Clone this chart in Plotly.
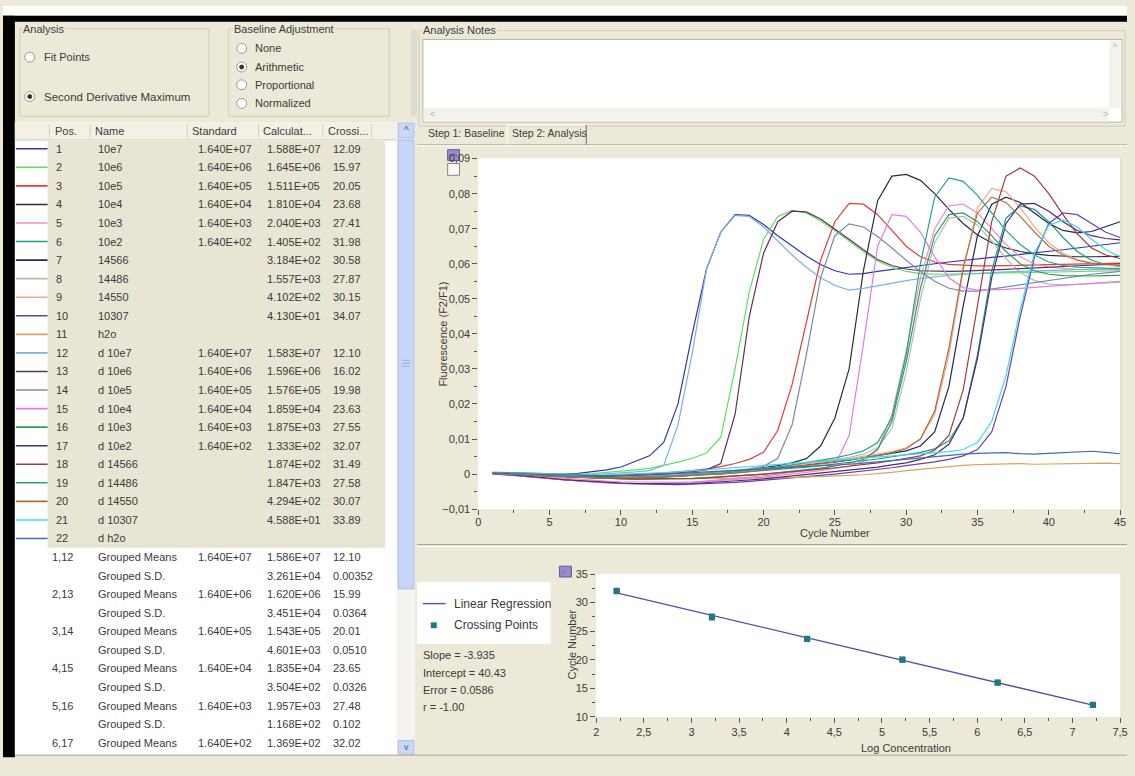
import math
import plotly.graph_objects as go

W, H = 1135, 776
def px(x): return x / W
def py(y): return 1 - y / H

FONT = "Liberation Sans, Arial, sans-serif"
TXT = "#3a3a3a"
BEIGE = "#ECE9D8"

# ---------------- data ----------------
cycles = list(range(1, 46))

sample_pos = [str(i) for i in range(1, 23)]
sample_names = ["10e7", "10e6", "10e5", "10e4", "10e3", "10e2", "14566", "14486", "14550", "10307", "h2o",
                "d 10e7", "d 10e6", "d 10e5", "d 10e4", "d 10e3", "d 10e2", "d 14566", "d 14486", "d 14550",
                "d 10307", "d h2o"]
sample_standard = ["1.640E+07", "1.640E+06", "1.640E+05", "1.640E+04", "1.640E+03", "1.640E+02", "", "", "", "", "",
                   "1.640E+07", "1.640E+06", "1.640E+05", "1.640E+04", "1.640E+03", "1.640E+02", "", "", "", "", ""]
sample_calculated = ["1.588E+07", "1.645E+06", "1.511E+05", "1.810E+04", "2.040E+03", "1.405E+02", "3.184E+02",
                     "1.557E+03", "4.102E+02", "4.130E+01", "", "1.583E+07", "1.596E+06", "1.576E+05", "1.859E+04",
                     "1.875E+03", "1.333E+02", "1.874E+02", "1.847E+03", "4.294E+02", "4.588E+01", ""]
sample_crossing = ["12.09", "15.97", "20.05", "23.68", "27.41", "31.98", "30.58", "27.87", "30.15", "34.07", "",
                   "12.10", "16.02", "19.98", "23.63", "27.55", "32.07", "31.49", "27.58", "30.07", "33.89", ""]
sample_colors = ["#3434b4", "#5ee05e", "#e23c3c", "#2a2e3a", "#f08ccc", "#1f9a8c", "#24245e", "#b4bcb4",
                 "#f4a888", "#6a40b0", "#d8a45c", "#78b4dc", "#5a3454", "#7c8aa8", "#e07ce8", "#2e9e52",
                 "#4c2c74", "#a03c3c", "#1ea58a", "#a87040", "#3cd8ec", "#3c6cb4"]

group_pos = ["1,12", "", "2,13", "", "3,14", "", "4,15", "", "5,16", "", "6,17"]
group_names = ["Grouped Means", "Grouped S.D."] * 5 + ["Grouped Means"]
group_standard = ["1.640E+07", "", "1.640E+06", "", "1.640E+05", "", "1.640E+04", "", "1.640E+03", "", "1.640E+02"]
group_calculated = ["1.586E+07", "3.261E+04", "1.620E+06", "3.451E+04", "1.543E+05", "4.601E+03",
                    "1.835E+04", "3.504E+02", "1.957E+03", "1.168E+02", "1.369E+02"]
group_crossing = ["12.10", "0.00352", "15.99", "0.0364", "20.01", "0.0510", "23.65", "0.0326",
                  "27.48", "0.102", "32.02"]

reg_slope = -3.935
reg_intercept = 40.43
reg_error = 0.0586
reg_r = -1.00

fluor_01 = [0.0005, 0.0004, 0.0003, 0.0002, 0.0001, 0.0000, 0.0002, 0.0006, 0.0012, 0.0020,
            0.0035, 0.0052, 0.0090, 0.0200, 0.0400, 0.0585, 0.0690, 0.0740, 0.0738, 0.0712,
            0.0680, 0.0650, 0.0622, 0.0598, 0.0580, 0.0570, 0.0572, 0.0578, 0.0584, 0.0590,
            0.0596, 0.0600, 0.0605, 0.0610, 0.0614, 0.0618, 0.0622, 0.0626, 0.0630, 0.0635,
            0.0640, 0.0645, 0.0650, 0.0655, 0.0660]
fluor_02 = [0.0004, 0.0003, 0.0001, 0.0000, -0.0001, -0.0002, -0.0001, 0.0001, 0.0004, 0.0008,
            0.0012, 0.0016, 0.0024, 0.0034, 0.0045, 0.0060, 0.0105, 0.0300, 0.0520, 0.0670,
            0.0735, 0.0752, 0.0745, 0.0722, 0.0695, 0.0665, 0.0635, 0.0608, 0.0590, 0.0578,
            0.0572, 0.0570, 0.0570, 0.0571, 0.0572, 0.0573, 0.0574, 0.0575, 0.0576, 0.0577,
            0.0578, 0.0578, 0.0579, 0.0580, 0.0580]
fluor_03 = [0.0003, 0.0002, 0.0000, -0.0002, -0.0004, -0.0005, -0.0006, -0.0006, -0.0005, -0.0004,
            -0.0002, 0.0000, 0.0003, 0.0006, 0.0010, 0.0015, 0.0021, 0.0030, 0.0042, 0.0062,
            0.0125, 0.0255, 0.0430, 0.0610, 0.0720, 0.0772, 0.0770, 0.0740, 0.0695, 0.0650,
            0.0620, 0.0605, 0.0598, 0.0595, 0.0594, 0.0594, 0.0595, 0.0596, 0.0597, 0.0598,
            0.0599, 0.0600, 0.0600, 0.0601, 0.0602]
fluor_04 = [0.0002, 0.0001, -0.0001, -0.0003, -0.0005, -0.0007, -0.0009, -0.0011, -0.0012, -0.0012,
            -0.0011, -0.0010, -0.0008, -0.0006, -0.0003, 0.0000, 0.0004, 0.0008, 0.0013, 0.0018,
            0.0024, 0.0032, 0.0044, 0.0080, 0.0160, 0.0300, 0.0580, 0.0780, 0.0850, 0.0855,
            0.0838, 0.0800, 0.0755, 0.0715, 0.0682, 0.0660, 0.0645, 0.0635, 0.0628, 0.0624,
            0.0621, 0.0620, 0.0620, 0.0620, 0.0621]
fluor_05 = [0.0003, 0.0000, -0.0003, -0.0006, -0.0009, -0.0012, -0.0015, -0.0018, -0.0020, -0.0022,
            -0.0023, -0.0024, -0.0024, -0.0024, -0.0023, -0.0021, -0.0019, -0.0016, -0.0013, -0.0009,
            -0.0005, 0.0000, 0.0005, 0.0010, 0.0015, 0.0022, 0.0035, 0.0070, 0.0170, 0.0350,
            0.0560, 0.0700, 0.0765, 0.0770, 0.0745, 0.0700, 0.0655, 0.0620, 0.0600, 0.0590,
            0.0586, 0.0584, 0.0583, 0.0583, 0.0583]
fluor_06 = [0.0001, 0.0000, -0.0001, -0.0003, -0.0004, -0.0006, -0.0007, -0.0008, -0.0009, -0.0009,
            -0.0009, -0.0008, -0.0007, -0.0006, -0.0004, -0.0002, 0.0000, 0.0003, 0.0006, 0.0009,
            0.0012, 0.0016, 0.0020, 0.0024, 0.0028, 0.0033, 0.0038, 0.0043, 0.0049, 0.0055,
            0.0062, 0.0072, 0.0095, 0.0160, 0.0340, 0.0580, 0.0730, 0.0765, 0.0755, 0.0720,
            0.0675, 0.0635, 0.0610, 0.0598, 0.0592]
fluor_07 = [0.0003, 0.0002, 0.0000, -0.0002, -0.0004, -0.0005, -0.0006, -0.0007, -0.0007, -0.0007,
            -0.0006, -0.0005, -0.0004, -0.0002, 0.0000, 0.0002, 0.0005, 0.0008, 0.0011, 0.0014,
            0.0018, 0.0022, 0.0026, 0.0030, 0.0035, 0.0040, 0.0046, 0.0052, 0.0058, 0.0066,
            0.0080, 0.0120, 0.0250, 0.0480, 0.0680, 0.0770, 0.0790, 0.0775, 0.0745, 0.0715,
            0.0695, 0.0688, 0.0692, 0.0705, 0.0720]
fluor_08 = [0.0001, 0.0000, -0.0001, -0.0003, -0.0005, -0.0006, -0.0007, -0.0008, -0.0008, -0.0008,
            -0.0007, -0.0006, -0.0005, -0.0003, -0.0001, 0.0001, 0.0004, 0.0007, 0.0011, 0.0015,
            0.0019, 0.0024, 0.0029, 0.0035, 0.0041, 0.0048, 0.0056, 0.0075, 0.0130, 0.0290,
            0.0500, 0.0660, 0.0730, 0.0735, 0.0710, 0.0665, 0.0615, 0.0575, 0.0552, 0.0542,
            0.0540, 0.0541, 0.0543, 0.0545, 0.0547]
fluor_09 = [0.0002, 0.0001, 0.0000, -0.0001, -0.0003, -0.0004, -0.0005, -0.0006, -0.0006, -0.0006,
            -0.0005, -0.0004, -0.0003, -0.0001, 0.0001, 0.0003, 0.0006, 0.0009, 0.0012, 0.0016,
            0.0020, 0.0024, 0.0028, 0.0033, 0.0038, 0.0044, 0.0050, 0.0057, 0.0064, 0.0075,
            0.0100, 0.0170, 0.0340, 0.0580, 0.0760, 0.0815, 0.0805, 0.0760, 0.0705, 0.0660,
            0.0630, 0.0612, 0.0602, 0.0597, 0.0594]
fluor_10 = [0.0001, -0.0002, -0.0005, -0.0009, -0.0013, -0.0017, -0.0020, -0.0023, -0.0025, -0.0027,
            -0.0028, -0.0029, -0.0030, -0.0030, -0.0029, -0.0028, -0.0026, -0.0024, -0.0021, -0.0018,
            -0.0015, -0.0012, -0.0008, -0.0004, 0.0000, 0.0004, 0.0008, 0.0013, 0.0018, 0.0024,
            0.0029, 0.0035, 0.0042, 0.0052, 0.0070, 0.0120, 0.0250, 0.0450, 0.0620, 0.0715,
            0.0745, 0.0740, 0.0715, 0.0690, 0.0675]
fluor_11 = [0.0001, 0.0000, -0.0001, -0.0003, -0.0005, -0.0006, -0.0007, -0.0008, -0.0009, -0.0010,
            -0.0011, -0.0012, -0.0012, -0.0013, -0.0013, -0.0013, -0.0013, -0.0012, -0.0012, -0.0011,
            -0.0011, -0.0010, -0.0009, -0.0008, -0.0006, -0.0004, -0.0002, 0.0001, 0.0005, 0.0010,
            0.0014, 0.0018, 0.0022, 0.0025, 0.0027, 0.0028, 0.0029, 0.0030, 0.0028, 0.0029,
            0.0030, 0.0029, 0.0030, 0.0031, 0.0030]
fluor_12 = [0.0003, 0.0002, 0.0000, -0.0002, -0.0004, -0.0005, -0.0004, -0.0002, 0.0000, 0.0003,
            0.0006, 0.0010, 0.0025, 0.0140, 0.0345, 0.0585, 0.0690, 0.0738, 0.0735, 0.0705,
            0.0665, 0.0625, 0.0590, 0.0560, 0.0538, 0.0525, 0.0530, 0.0538, 0.0545, 0.0552,
            0.0558, 0.0563, 0.0567, 0.0570, 0.0573, 0.0575, 0.0577, 0.0578, 0.0580, 0.0581,
            0.0582, 0.0583, 0.0584, 0.0585, 0.0586]
fluor_13 = [0.0002, 0.0001, -0.0001, -0.0003, -0.0005, -0.0007, -0.0008, -0.0008, -0.0007, -0.0006,
            -0.0004, -0.0002, 0.0000, 0.0003, 0.0007, 0.0012, 0.0030, 0.0170, 0.0450, 0.0630,
            0.0720, 0.0750, 0.0748, 0.0728, 0.0700, 0.0670, 0.0640, 0.0612, 0.0595, 0.0585,
            0.0580, 0.0578, 0.0578, 0.0579, 0.0580, 0.0582, 0.0584, 0.0586, 0.0588, 0.0590,
            0.0592, 0.0594, 0.0596, 0.0598, 0.0600]
fluor_14 = [0.0001, 0.0000, -0.0002, -0.0004, -0.0006, -0.0008, -0.0010, -0.0011, -0.0011, -0.0010,
            -0.0009, -0.0007, -0.0005, -0.0003, 0.0000, 0.0003, 0.0006, 0.0010, 0.0015, 0.0022,
            0.0045, 0.0140, 0.0340, 0.0560, 0.0680, 0.0714, 0.0705, 0.0678, 0.0645, 0.0610,
            0.0578, 0.0550, 0.0530, 0.0522, 0.0522, 0.0528, 0.0535, 0.0542, 0.0548, 0.0554,
            0.0560, 0.0565, 0.0570, 0.0574, 0.0578]
fluor_15 = [0.0000, -0.0002, -0.0005, -0.0009, -0.0013, -0.0017, -0.0020, -0.0023, -0.0025, -0.0026,
            -0.0027, -0.0027, -0.0026, -0.0025, -0.0023, -0.0020, -0.0017, -0.0013, -0.0009, -0.0005,
            0.0000, 0.0005, 0.0010, 0.0015, 0.0025, 0.0110, 0.0370, 0.0650, 0.0740, 0.0735,
            0.0690, 0.0620, 0.0560, 0.0532, 0.0525, 0.0525, 0.0527, 0.0530, 0.0533, 0.0536,
            0.0539, 0.0542, 0.0545, 0.0548, 0.0550]
fluor_16 = [0.0001, 0.0000, -0.0002, -0.0004, -0.0006, -0.0008, -0.0010, -0.0012, -0.0013, -0.0014,
            -0.0015, -0.0015, -0.0015, -0.0014, -0.0013, -0.0011, -0.0009, -0.0006, -0.0003, 0.0000,
            0.0004, 0.0008, 0.0012, 0.0017, 0.0023, 0.0030, 0.0042, 0.0070, 0.0150, 0.0320,
            0.0530, 0.0680, 0.0740, 0.0745, 0.0720, 0.0680, 0.0635, 0.0600, 0.0580, 0.0570,
            0.0566, 0.0565, 0.0565, 0.0566, 0.0567]
fluor_17 = [0.0002, -0.0001, -0.0004, -0.0008, -0.0012, -0.0016, -0.0019, -0.0022, -0.0024, -0.0026,
            -0.0027, -0.0028, -0.0028, -0.0028, -0.0027, -0.0025, -0.0023, -0.0020, -0.0017, -0.0014,
            -0.0010, -0.0006, -0.0002, 0.0002, 0.0006, 0.0010, 0.0015, 0.0020, 0.0026, 0.0032,
            0.0042, 0.0055, 0.0085, 0.0160, 0.0330, 0.0560, 0.0715, 0.0770, 0.0772, 0.0750,
            0.0720, 0.0695, 0.0680, 0.0672, 0.0668]
fluor_18 = [0.0002, 0.0001, -0.0001, -0.0003, -0.0005, -0.0007, -0.0009, -0.0011, -0.0012, -0.0013,
            -0.0014, -0.0014, -0.0014, -0.0013, -0.0012, -0.0010, -0.0008, -0.0006, -0.0003, 0.0000,
            0.0003, 0.0006, 0.0010, 0.0014, 0.0018, 0.0022, 0.0027, 0.0032, 0.0038, 0.0044,
            0.0052, 0.0068, 0.0110, 0.0240, 0.0480, 0.0720, 0.0850, 0.0873, 0.0850, 0.0800,
            0.0740, 0.0685, 0.0645, 0.0625, 0.0615]
fluor_19 = [0.0002, 0.0001, 0.0000, -0.0002, -0.0004, -0.0006, -0.0008, -0.0009, -0.0010, -0.0010,
            -0.0010, -0.0009, -0.0008, -0.0006, -0.0004, -0.0001, 0.0002, 0.0006, 0.0010, 0.0015,
            0.0020, 0.0026, 0.0032, 0.0039, 0.0046, 0.0055, 0.0066, 0.0090, 0.0160, 0.0340,
            0.0600, 0.0790, 0.0845, 0.0835, 0.0795, 0.0745, 0.0695, 0.0655, 0.0625, 0.0605,
            0.0595, 0.0590, 0.0588, 0.0587, 0.0586]
fluor_20 = [0.0001, 0.0000, -0.0002, -0.0004, -0.0006, -0.0008, -0.0009, -0.0010, -0.0011, -0.0011,
            -0.0011, -0.0010, -0.0009, -0.0007, -0.0005, -0.0003, 0.0000, 0.0003, 0.0007, 0.0011,
            0.0015, 0.0019, 0.0024, 0.0029, 0.0034, 0.0040, 0.0046, 0.0053, 0.0061, 0.0072,
            0.0100, 0.0180, 0.0360, 0.0590, 0.0745, 0.0790, 0.0775, 0.0735, 0.0690, 0.0650,
            0.0625, 0.0610, 0.0602, 0.0598, 0.0596]
fluor_21 = [0.0002, 0.0001, 0.0000, -0.0001, -0.0002, -0.0003, -0.0003, -0.0003, -0.0002, -0.0001,
            0.0000, 0.0002, 0.0004, 0.0006, 0.0009, 0.0012, 0.0015, 0.0018, 0.0021, 0.0024,
            0.0027, 0.0030, 0.0033, 0.0036, 0.0039, 0.0042, 0.0045, 0.0048, 0.0051, 0.0054,
            0.0057, 0.0060, 0.0064, 0.0070, 0.0090, 0.0150, 0.0280, 0.0470, 0.0630, 0.0710,
            0.0725, 0.0705, 0.0670, 0.0640, 0.0620]
fluor_22 = [0.0002, 0.0001, 0.0000, -0.0002, -0.0003, -0.0004, -0.0005, -0.0005, -0.0005, -0.0004,
            -0.0003, -0.0002, 0.0000, 0.0002, 0.0004, 0.0006, 0.0008, 0.0010, 0.0012, 0.0014,
            0.0016, 0.0018, 0.0020, 0.0022, 0.0025, 0.0028, 0.0031, 0.0035, 0.0039, 0.0043,
            0.0047, 0.0051, 0.0054, 0.0057, 0.0059, 0.0060, 0.0061, 0.0058, 0.0057, 0.0059,
            0.0061, 0.0063, 0.0065, 0.0062, 0.0058]

series = [fluor_01, fluor_02, fluor_03, fluor_04, fluor_05, fluor_06, fluor_07, fluor_08, fluor_09, fluor_10,
          fluor_11, fluor_12, fluor_13, fluor_14, fluor_15, fluor_16, fluor_17, fluor_18, fluor_19, fluor_20,
          fluor_21, fluor_22]

# ---------------- helpers ----------------
shapes = []
annots = []

def rect(x0, y0, x1, y1, fill, line=None, lw=1, layer="below"):
    shapes.append(dict(type="rect", xref="paper", yref="paper", x0=px(x0), x1=px(x1), y0=py(y1), y1=py(y0),
                       fillcolor=fill, line=dict(color=line if line else fill, width=lw if line else 0),
                       layer=layer))

def line(x0, y0, x1, y1, color, w=1, layer="below"):
    shapes.append(dict(type="line", xref="paper", yref="paper", x0=px(x0), x1=px(x1), y0=py(y0), y1=py(y1),
                       line=dict(color=color, width=w), layer=layer))

def circle(cx, cy, r, fill, color, w=1, layer="above"):
    shapes.append(dict(type="circle", xref="paper", yref="paper", x0=px(cx - r), x1=px(cx + r),
                       y0=py(cy + r), y1=py(cy - r), fillcolor=fill, line=dict(color=color, width=w),
                       layer=layer))

def text(x, y, s, size=11, anchor="left", color=TXT, angle=0, bg=None):
    a = dict(x=px(x), y=py(y), xref="paper", yref="paper", text=s, showarrow=False, xanchor=anchor,
             yanchor="middle", font=dict(family=FONT, size=size, color=color), textangle=angle, borderpad=0)
    if bg:
        a["bgcolor"] = bg
    annots.append(a)

# ---------------- window chrome ----------------
rect(0, 0, W, 10, "#ffffff")
rect(0, 10, W, 16, "#000000")
rect(0, 10, 12, 763, "#000000")
line(12, 761, W, 761, "#a8a598")

# left-top group boxes
rect(17, 23, 208, 112, "rgba(0,0,0,0)", "#cfccbc")
text(19, 23, "Analysis", bg=BEIGE)
circle(27, 52, 5, "#ffffff", "#9a998c")
text(40, 52, "Fit Points")
circle(27, 92, 5, "#ffffff", "#9a998c")
circle(27, 92, 2, "#303030", "#303030")
text(40, 92, "Second Derivative Maximum", size=11.5)

rect(228, 23, 390, 112, "rgba(0,0,0,0)", "#cfccbc")
text(232, 23, "Baseline Adjustment", bg=BEIGE)
for yy, lab in zip([43, 62, 80, 99], ["None", "Arithmetic", "Proportional", "Normalized"]):
    circle(241, yy, 5, "#ffffff", "#9a998c")
    text(253, yy, lab)
circle(241, 62, 2, "#303030", "#303030")
rect(412, 24, 418, 112, "#dcdad0")

# table
rect(12, 118, 398, 760, "#ffffff")
rect(12, 118, 398, 136, "#f3f1e6")
line(12, 136, 398, 136, "#cdc9b8")
for xs in [47, 88, 186, 258, 323, 372]:
    line(xs, 120, xs, 134, "#d3cfbf")
text(52, 127, "Pos.")
text(92, 127, "Name")
text(190, 127, "Standard")
text(262, 127, "Calculat...")
text(327, 127, "Crossi...")

def row_y(i):
    return 145.0 + 18.85 * i

rect(45, 137, 386, row_y(21) + 9.4, "#e8e5d5")
for i in range(22):
    y = row_y(i)
    line(13, y, 45, y, sample_colors[i], 1.6)
    text(53, y, sample_pos[i])
    text(95, y, sample_names[i])
    text(196, y, sample_standard[i])
    text(266, y, sample_calculated[i])
    text(332, y, sample_crossing[i])
for j in range(len(group_names)):
    y = row_y(22 + j)
    text(48, y, group_pos[j])
    text(95, y, group_names[j])
    text(196, y, group_standard[j])
    text(266, y, group_calculated[j])
    text(332, y, group_crossing[j])

# table scrollbar
rect(398, 118, 416, 760, "#f4f3ee")
rect(399, 119, 415, 134, "#c9d8f6", "#a9bde6")
text(407, 126, "^", size=10, anchor="center", color="#4a5a8a")
rect(399, 136, 415, 592, "#c6d5f8", "#aabde9")
for gy in [360, 363, 366]:
    line(403, gy, 411, gy, "#9fb2de")
rect(399, 746, 415, 760, "#c9d8f6", "#a9bde6")
text(407, 753, "v", size=9, anchor="center", color="#4a5a8a")

# right top: analysis notes
rect(420, 25, W - 2, 122, "rgba(0,0,0,0)", "#cfccbc")
text(423, 24, "Analysis Notes", bg=BEIGE)
rect(424, 34, 1130, 118, "#ffffff", "#b8b5a6")
rect(425, 103, 1117, 117, "#f3f2ec")
text(430, 110, "&lt;", size=9, color="#b0b0b0")
text(1110, 110, "&gt;", size=9, color="#b0b0b0")
rect(1117, 35, 1129, 103, "#f3f2ec")
text(1123, 42, "^", size=9, anchor="center", color="#b0b0b0")

# tabs
line(418, 141, W, 141, "#a9a595")
line(418, 142, W, 142, "#ffffff")
text(428, 129, "Step 1: Baseline", size=10.5)
text(513, 129, "Step 2: Analysis", size=10.5)
line(509, 121, 509, 141, "#ffffff")
line(509, 121, 588, 121, "#ffffff")
line(589, 121, 589, 141, "#6f6c60")

# plot panel separator
line(418, 547, W, 547, "#a9a595", 1)
line(418, 549, W, 549, "#ffffff", 1)

# plot white areas
X0, X1, Y0, Y1 = 480, 1128, 155, 511
SX0, SX1, SY0, SY1 = 599, 1128, 577, 722
rect(X0, Y0, X1, Y1, "#ffffff")
rect(SX0, SY0, SX1, SY1, "#ffffff")
line(X1 + 1, Y0, X1 + 1, Y1, "#d8d6cc")

# small toolbar icons
rect(449, 146, 461, 157, "#9c8ad0", "#5c5aa0")
line(451, 154, 455, 150, "#d04040", 1)
line(455, 150, 459, 153, "#3050c0", 1)
rect(449, 160, 461, 172, "#f8f8f4", "#8a887c")
rect(562, 569, 574, 580, "#9c8ad0", "#5c5aa0")
line(564, 577, 568, 573, "#d04040", 1)

# legend box for the standard curve (drawn by hand, like the original widget)
REG_COLOR = "#4f4fb0"
PT_COLOR = "#1f7a80"
rect(418, 585, 553, 648, "#ffffff")
line(424, 607, 447, 607, REG_COLOR, 1.4)
rect(432, 626, 438, 632, PT_COLOR)
text(454, 607, "Linear Regression", size=12)
text(454, 629, "Crossing Points", size=12)

# regression stats
text(423, 659, "Slope = %.3f" % reg_slope)
text(423, 677, "Intercept = %.2f" % reg_intercept)
text(423, 695, "Error = %.4f" % reg_error)
text(423, 712, "r = %.2f" % reg_r)

# axis titles
text(437, 333, "Fluorescence (F2/F1)", angle=-90)
text((X0 + X1) / 2, 535, "Cycle Number")
text(567, 649, "Cycle Number", angle=-90)
text(865, 754, "Log Concentration")

# ---------------- traces ----------------
fig = go.Figure()
for i in range(22):
    fig.add_trace(go.Scatter(x=cycles, y=series[i], mode="lines", xaxis="x", yaxis="y",
                             line=dict(color=sample_colors[i], width=1.2), showlegend=False,
                             name=sample_names[i], hoverinfo="skip"))

std_x, std_y = [], []
for s, c in zip(sample_standard, sample_crossing):
    if s and c:
        std_x.append(math.log10(float(s)))
        std_y.append(float(c))
lx = [min(std_x), max(std_x)]
ly = [reg_intercept + reg_slope * v for v in lx]
fig.add_trace(go.Scatter(x=lx, y=ly, mode="lines", xaxis="x2", yaxis="y2", name="Linear Regression",
                         line=dict(color=REG_COLOR, width=1.4), showlegend=False))
fig.add_trace(go.Scatter(x=std_x, y=std_y, mode="markers", xaxis="x2", yaxis="y2", name="Crossing Points",
                         marker=dict(color=PT_COLOR, size=6, symbol="square"), showlegend=False))

tickfont = dict(family=FONT, size=11, color=TXT)
def axis(domain, rng, dtick, mdtick, anchor, tick0, standoff=0):
    return dict(domain=domain, range=rng, dtick=dtick, tick0=tick0, ticks="outside", ticklen=5,
                tickwidth=1, tickcolor="#555555", showgrid=False, zeroline=False, showline=False,
                tickfont=tickfont, anchor=anchor, fixedrange=True, ticklabelstandoff=standoff,
                minor=dict(ticks="outside", ticklen=3, dtick=mdtick, tickcolor="#555555", showgrid=False))

fig.update_layout(
    width=W, height=H, autosize=False,
    margin=dict(l=0, r=0, t=0, b=0, pad=0),
    paper_bgcolor=BEIGE, plot_bgcolor="#ffffff",
    separators=",.",
    font=dict(family=FONT, size=11, color=TXT),
    xaxis=axis([px(X0), px(X1)], [0, 45], 5, 2.5, "y", 0, -2),
    yaxis=axis([py(Y1), py(Y0)], [-0.01, 0.09], 0.01, 0.005, "x", 0),
    xaxis2=axis([px(SX0), px(SX1)], [2, 7.5], 0.5, 0.25, "y2", 2, 0),
    yaxis2=axis([py(SY1), py(SY0)], [10, 35], 5, 2.5, "x2", 10),
    showlegend=False,
    shapes=shapes,
    annotations=annots,
    hovermode=False,
)

fig.write_html("out.html", config={"displayModeBar": False})
